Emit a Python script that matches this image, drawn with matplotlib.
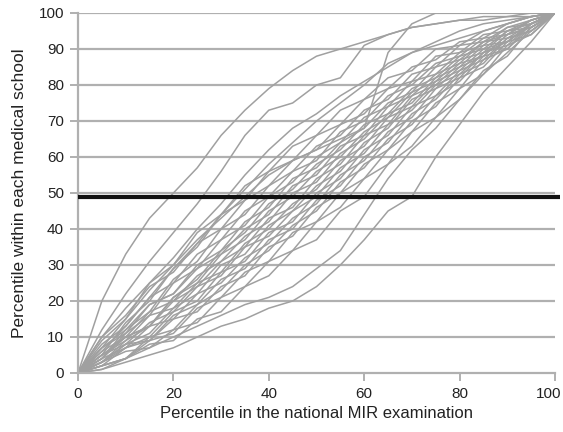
import matplotlib
matplotlib.use("Agg")
import matplotlib.pyplot as plt
from matplotlib.transforms import ScaledTranslation

plt.rcParams['font.family'] = ['Liberation Sans', 'DejaVu Sans']

# National MIR percentile (x) sampled every 5 points
national_pct = [0, 5, 10, 15, 20, 25, 30, 35, 40, 45, 50, 55, 60, 65, 70, 75, 80, 85, 90, 95, 100]

# Percentile within each medical school (one list per school)
school_A = [0, 20, 33, 43, 50, 57, 66, 73, 79, 84, 88, 90, 92, 94, 96, 97, 98, 98, 99, 99, 100]
school_B = [0, 12, 22, 31, 39, 47, 56, 66, 73, 75, 80, 82, 91, 94, 96, 97, 98, 99, 99, 100, 100]
school_H = [0, 10, 18, 25, 32, 40, 47, 55, 62, 68, 72, 77, 81, 85, 89, 92, 95, 97, 98, 99, 100]
school_F = [0, 7, 15, 23, 30, 37, 43, 49, 55, 59, 62, 65, 68, 89, 97, 100, 100, 100, 100, 100, 100]
school_G = [0, 6, 13, 21, 29, 36, 44, 51, 58, 64, 70, 75, 80, 86, 89, 91, 93, 95, 97, 99, 100]
school_C = [0, 1, 3, 5, 7, 10, 13, 15, 18, 20, 24, 30, 37, 45, 49, 60, 69, 78, 85, 92, 100]
school_D = [0, 2, 4, 7, 10, 13, 16, 19, 21, 24, 29, 34, 44, 54, 62, 68, 76, 83, 89, 95, 100]
school_01 = [0, 9, 15, 25, 30, 39, 44, 52, 56, 63, 66, 73, 76, 82, 84, 90, 91, 95, 97, 99, 100]
school_02 = [0, 5, 14, 20, 29, 35, 44, 48, 56, 59, 66, 69, 76, 79, 85, 87, 92, 93, 97, 99, 100]
school_03 = [0, 10, 16, 24, 28, 36, 40, 48, 52, 59, 62, 69, 72, 79, 81, 88, 89, 94, 95, 98, 100]
school_04 = [0, 4, 12, 17, 26, 31, 40, 44, 52, 56, 63, 66, 73, 76, 83, 85, 91, 92, 96, 98, 100]
school_05 = [0, 8, 13, 21, 25, 33, 37, 45, 49, 56, 59, 67, 70, 77, 80, 86, 88, 93, 94, 98, 100]
school_06 = [0, 4, 11, 16, 25, 29, 37, 41, 49, 53, 60, 64, 71, 74, 81, 83, 89, 91, 96, 97, 100]
school_07 = [0, 7, 11, 19, 22, 30, 34, 42, 46, 54, 57, 64, 68, 75, 78, 85, 87, 92, 94, 98, 100]
school_08 = [0, 5, 10, 13, 21, 26, 34, 39, 47, 51, 58, 62, 69, 72, 79, 82, 88, 90, 95, 97, 100]
school_09 = [0, 7, 12, 19, 22, 29, 33, 40, 44, 52, 55, 63, 66, 74, 77, 83, 86, 92, 93, 97, 100]
school_10 = [0, 3, 9, 13, 21, 25, 33, 37, 45, 49, 56, 60, 67, 71, 78, 81, 87, 89, 95, 96, 100]
school_11 = [0, 6, 10, 17, 20, 27, 31, 38, 42, 50, 53, 61, 65, 72, 75, 82, 85, 91, 92, 97, 100]
school_12 = [0, 4, 10, 13, 20, 24, 31, 35, 43, 46, 54, 58, 66, 69, 77, 80, 86, 88, 94, 96, 100]
school_13 = [0, 5, 9, 16, 18, 25, 28, 36, 40, 47, 51, 59, 63, 71, 74, 81, 84, 90, 92, 97, 100]
school_14 = [0, 3, 8, 11, 18, 22, 30, 33, 41, 45, 52, 56, 64, 68, 76, 79, 85, 88, 94, 96, 100]
school_15 = [0, 5, 8, 14, 17, 24, 27, 35, 38, 45, 49, 57, 61, 69, 73, 80, 83, 89, 92, 97, 100]
school_16 = [0, 2, 7, 10, 17, 20, 28, 31, 39, 42, 50, 54, 62, 66, 74, 77, 84, 87, 93, 95, 100]
school_17 = [0, 4, 7, 13, 15, 22, 25, 32, 36, 43, 47, 55, 59, 67, 71, 79, 82, 89, 91, 97, 100]
school_18 = [0, 3, 7, 9, 16, 19, 26, 29, 37, 40, 48, 52, 60, 64, 72, 76, 83, 86, 93, 95, 100]
school_19 = [0, 2, 4, 10, 12, 19, 23, 30, 34, 41, 45, 53, 57, 65, 69, 77, 81, 88, 90, 97, 100]
school_20 = [0, 3, 8, 9, 15, 17, 24, 27, 35, 38, 46, 50, 58, 62, 70, 74, 82, 85, 92, 94, 100]
school_21 = [0, 2, 4, 9, 11, 18, 21, 28, 31, 39, 42, 50, 54, 62, 67, 75, 79, 87, 90, 96, 100]
school_22 = [0, 3, 6, 7, 12, 14, 21, 24, 31, 34, 42, 46, 54, 58, 67, 71, 79, 83, 91, 94, 100]
school_23 = [0, 1, 4, 8, 9, 15, 17, 24, 27, 34, 37, 45, 49, 58, 63, 71, 76, 84, 88, 96, 100]

schools = [school_A, school_B, school_H, school_F, school_G, school_C, school_D,
           school_01, school_02, school_03, school_04, school_05, school_06,
           school_07, school_08, school_09, school_10, school_11, school_12,
           school_13, school_14, school_15, school_16, school_17, school_18,
           school_19, school_20, school_21, school_22, school_23]

median_line = 49
yticks = [0, 10, 20, 30, 40, 50, 60, 70, 80, 90, 100]
xticks = [0, 20, 40, 60, 80, 100]

fig = plt.figure(figsize=(5.63, 4.32), dpi=100)
ax = fig.add_axes([78/563, 59/432, 477/563, 360/432])

grid_c = '#b0b0b0'
for yv in yticks[1:]:
    ax.axhline(yv, color=grid_c, lw=1.6, zorder=1)

for ys in schools:
    ax.plot(national_pct, ys, color='#a0a0a0', lw=1.1, zorder=2)

ax.plot([0, 101], [median_line, median_line], color='#111111', lw=3.0,
        zorder=3, clip_on=False, solid_capstyle='butt')

ax.set_xlim(0, 100)
ax.set_ylim(0, 100)
ax.set_xticks(xticks)
ax.set_yticks(yticks)
for s in ['top', 'right']:
    ax.spines[s].set_visible(False)
for s in ['left', 'bottom']:
    ax.spines[s].set_color(grid_c)
    ax.spines[s].set_linewidth(1.6)
ax.tick_params(axis='both', colors=grid_c, length=6, width=1.4, labelsize=11,
               labelcolor='#222222', pad=4)
ax.set_xlabel('Percentile in the national MIR examination', fontsize=12,
              color='#222222', labelpad=4)
ax.set_ylabel('Percentile within each medical school', fontsize=12.5,
              color='#222222', labelpad=8)

# nudge the last x tick label so it stays inside the figure
fig.canvas.draw()
lbl = ax.get_xticklabels()[-1]
lbl.set_transform(lbl.get_transform() + ScaledTranslation(-6/100, 0, fig.dpi_scale_trans))

fig.savefig('out.png', dpi=100)
